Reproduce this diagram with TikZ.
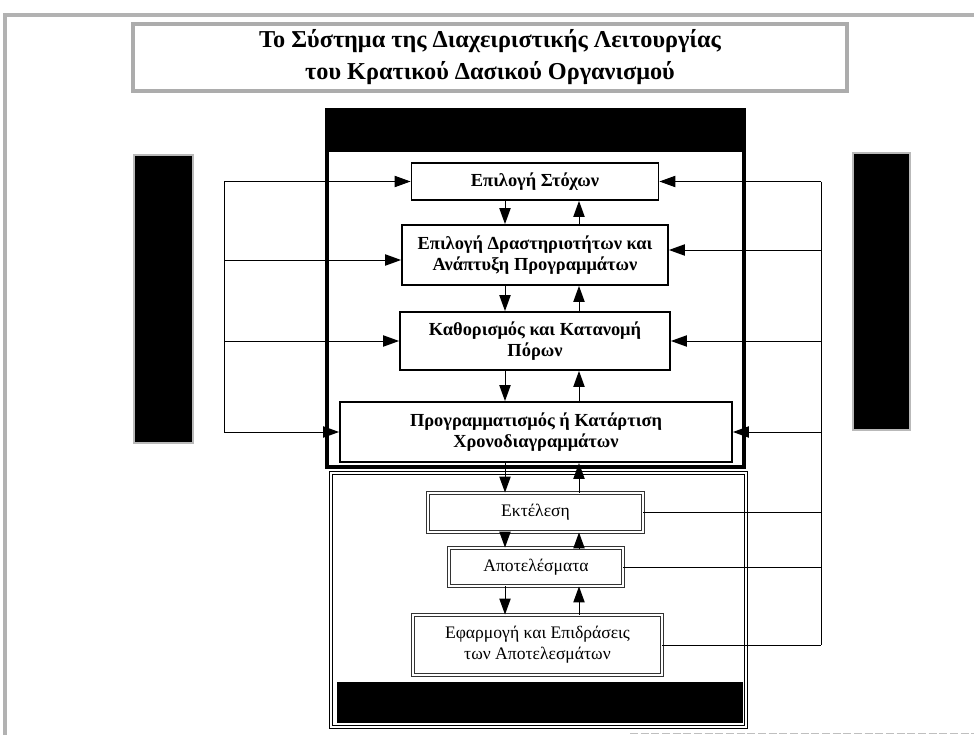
\documentclass[tikz,border=0pt]{standalone}
\usepackage{fontspec}
\setmainfont{Liberation Serif}
\usetikzlibrary{arrows.meta}

\tikzset{every picture/.style={line width=0.75pt}}
\tikzset{
  stepbox/.style={draw, line width=1.4pt, fill=white, inner sep=0.75pt, align=center, font=\bfseries\fontsize{13.8}{15.5}\selectfont},
  runbox/.style={draw=black!80, double=white, double distance=1.2pt, line width=0.7pt, fill=white, inner sep=0.75pt, align=center, font=\fontsize{13.2}{15.5}\selectfont},
  arr/.style={-{Triangle[length=12pt,width=8.5pt]}},
}

\begin{document}
\begin{tikzpicture}[x=0.75pt,y=0.75pt,yscale=-1,xscale=1]
\useasboundingbox (0,0) rectangle (974,735);

%Page frame
\draw [gray!60, line width=3pt] (5,735) -- (5,15) -- (974,15) ;
%Title box
\draw [gray!65, line width=3pt] (133,24) rectangle (847,91) ;
%Side bars
\draw [draw=gray!55, fill=black, line width=1.5pt] (134,155) rectangle (193,443) ;
\draw [draw=gray!55, fill=black, line width=1.5pt] (853,153) rectangle (910,430) ;
%Upper block with header
\draw [line width=3pt] (327,110) rectangle (744,467) ;
\fill (327,110) rectangle (744,152) ;
%Lower block with footer
\draw [double, double distance=1.5pt, line width=1pt] (331,473) rectangle (746,727) ;
\fill (337,682) rectangle (743,723) ;
%Bottom edge
\draw [gray!50, line width=0.5pt, dash pattern={on 6pt off 2pt}] (630,733) -- (974,733) ;

% Text Node
\node (title) at (490,57) [align=center, font=\bfseries\fontsize{18.2}{24}\selectfont] {Το Σύστημα της Διαχειριστικής Λειτουργίας\\του Κρατικού Δασικού Οργανισμού};
% Text Node
\node (stoxoi) at (535,181.5) [stepbox, minimum width=185.25pt, minimum height=27.75pt] {Επιλογή Στόχων};
% Text Node
\node (drast) at (535,255) [stepbox, minimum width=199.5pt, minimum height=45pt] {Επιλογή Δραστηριοτήτων και\\Ανάπτυξη Προγραμμάτων};
% Text Node
\node (poroi) at (535,341) [stepbox, minimum width=202.5pt, minimum height=43.5pt] {Καθορισμός και Κατανομή\\Πόρων};
% Text Node
\node (progr) at (536,432) [stepbox, minimum width=294pt, minimum height=45pt] {Προγραμματισμός ή Κατάρτιση\\Χρονοδιαγραμμάτων};
% Text Node
\node (ektel) at (535.5,512.5) [runbox, minimum width=161.25pt, minimum height=29.25pt] {Εκτέλεση};
% Text Node
\node (apotel) at (536,567) [runbox, minimum width=130.5pt, minimum height=28.5pt] {Αποτελέσματα};
% Text Node
\node (efarm) at (537.5,645) [runbox, minimum width=186.75pt, minimum height=45pt] {Εφαρμογή και Επιδράσεις\\των Αποτελεσμάτων};

%Bus and column positions
\coordinate (busL) at (224,0) ;
\coordinate (busR) at (821,0) ;
\coordinate (dn) at (505,0) ;
\coordinate (up) at (579,0) ;
\coordinate (drastL) at ([yshift=3.75pt]drast.west) ;
\coordinate (drastR) at ([yshift=-3.75pt]drast.east) ;

%Straight Lines
\draw (busL |- stoxoi.west) -- (busL |- progr.west) ;
\draw [arr] (busL |- stoxoi.west) -- (stoxoi.west) ;
\draw [arr] (busL |- drastL) -- (drastL) ;
\draw [arr] (busL |- poroi.west) -- (poroi.west) ;
\draw [arr] (busL |- progr.west) -- (progr.west) ;
%Straight Lines
\draw (busR |- stoxoi.east) -- (busR |- efarm.east) ;
\draw [arr] (busR |- stoxoi.east) -- (stoxoi.east) ;
\draw [arr] (busR |- drastR) -- (drastR) ;
\draw [arr] (busR |- poroi.east) -- (poroi.east) ;
\draw [arr] (busR |- progr.east) -- (progr.east) ;
\draw (ektel.east) -- (busR |- ektel.east) ;
\draw (apotel.east) -- (busR |- apotel.east) ;
\draw (efarm.east) -- (busR |- efarm.east) ;

%Straight Lines
\draw [arr] (dn |- stoxoi.south) -- (dn |- drast.north) ;
\draw [arr] (up |- drast.north) -- (up |- stoxoi.south) ;
\draw [arr] (dn |- drast.south) -- (dn |- poroi.north) ;
\draw [arr] (up |- poroi.north) -- (up |- drast.south) ;
\draw [arr] (dn |- poroi.south) -- (dn |- progr.north) ;
\draw [arr] (up |- progr.north) -- (up |- poroi.south) ;
\draw [arr] (dn |- progr.south) -- (dn |- ektel.north) ;
\draw [arr] (up |- ektel.north) -- (up |- progr.south) ;
\draw [arr] (dn |- ektel.south) -- (dn |- apotel.north) ;
\draw [arr] (up |- apotel.north) -- (up |- ektel.south) ;
\draw [arr] (dn |- apotel.south) -- (dn |- efarm.north) ;
\draw [arr] (up |- efarm.north) -- (up |- apotel.south) ;
\end{tikzpicture}
\end{document}
